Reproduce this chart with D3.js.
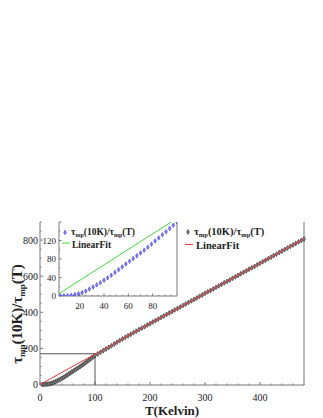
<!DOCTYPE html>
<meta charset="utf-8">
<script src="https://d3js.org/d3.v7.min.js"></script>
<style>
  body { margin: 0; background: #fff; }
  text { font-family: "Liberation Serif", serif; fill: #222; }
</style>
<div id="chart"></div>
<script>
// temperatures and ratio values
var tempLow = [4, 7, 10, 13, 16, 19, 22, 25, 28, 31, 34, 37, 40, 43, 46, 49, 52, 55, 58, 61, 64, 67, 70, 73, 76, 79, 82, 85, 88, 91, 94, 97, 100];
var ratioLow = [0, 0.3, 0.8, 1.6, 3, 4.9, 7.3, 10.7, 15, 19.5, 24, 28.7, 34, 39.2, 45, 51, 57, 63, 69, 75, 81, 87, 93, 99, 105.5, 112, 119, 125.5, 132.5, 139, 146, 153, 160];
var tempHigh = [105, 110, 115, 120, 125, 130, 135, 140, 145, 150, 155, 160, 165, 170, 175, 180, 185, 190, 195, 200,
  205, 210, 215, 220, 225, 230, 235, 240, 245, 250, 255, 260, 265, 270, 275, 280, 285, 290, 295, 300,
  305, 310, 315, 320, 325, 330, 335, 340, 345, 350, 355, 360, 365, 370, 375, 380, 385, 390, 395, 400,
  405, 410, 415, 420, 425, 430, 435, 440, 445, 450, 455, 460, 465, 470, 475, 480];
var ratioHigh = [169, 178, 187, 196, 205, 214, 224, 234, 243, 252, 261, 270, 278, 287, 295, 304, 312, 320, 329, 337,
  346, 354, 362, 371, 379, 388, 396, 404, 413, 421, 429, 438, 446, 454, 463, 471, 479, 488, 496, 505,
  513, 521, 529, 538, 546, 554, 563, 571, 579, 588, 596, 604, 613, 621, 629, 638, 646, 654, 663, 671,
  680, 688, 697, 705, 714, 722, 731, 739, 748, 756, 765, 773, 781, 790, 798, 806];
// linear fit: slope, intercept
var fitCoef = [1.68, 0];
// corner of the zoomed region shown in the inset
var zoomCorner = [100, 170];
var mainXTicks = [0, 100, 200, 300, 400];
var mainYTicks = [0, 200, 400, 600, 800];
var insetXTicks = [20, 40, 60, 80];
var insetYTicks = [0, 40, 80, 120];

var W = 323, H = 418;
var svg = d3.select("#chart").append("svg")
  .attr("width", W).attr("height", H);

var allData = tempLow.map(function(t, i) { return {t: t, v: ratioLow[i]}; })
  .concat(tempHigh.map(function(t, i) { return {t: t, v: ratioHigh[i]}; }));
var lowData = tempLow.map(function(t, i) { return {t: t, v: ratioLow[i]}; });
function fit(t) { return fitCoef[0] * t + fitCoef[1]; }

// ---------- main plot ----------
var x = d3.scaleLinear().domain([0, 480]).range([40, 304]);
var y = d3.scaleLinear().domain([-3, 900]).range([385, 222]);

var frame = "#777";
// frame lines (left, bottom, right)
svg.append("path")
  .attr("d", "M" + x(0) + "," + y(900) + "V" + y(-3) + "H" + x(480) + "V" + y(900))
  .attr("fill", "none").attr("stroke", frame).attr("stroke-width", 1);

// ticks
var xMinor = d3.range(0, 481, 20);
svg.append("g").selectAll("line").data(xMinor).enter().append("line")
  .attr("x1", function(d) { return x(d); }).attr("x2", function(d) { return x(d); })
  .attr("y1", y(-3)).attr("y2", function(d) { return y(-3) - (d % 100 === 0 ? 3 : 1.5); })
  .attr("stroke", frame);
var yMinor = d3.range(0, 901, 50);
svg.append("g").selectAll("line").data(yMinor).enter().append("line")
  .attr("y1", function(d) { return y(d); }).attr("y2", function(d) { return y(d); })
  .attr("x1", x(0)).attr("x2", function(d) { return x(0) + (d % 200 === 0 ? 3 : 1.5); })
  .attr("stroke", frame);

svg.append("g").selectAll("text").data(mainXTicks).enter().append("text")
  .attr("x", function(d) { return x(d); }).attr("y", 401)
  .attr("text-anchor", "middle").style("font-size", "10px")
  .text(function(d) { return d; });
svg.append("g").selectAll("text").data(mainYTicks).enter().append("text")
  .attr("x", 38).attr("y", function(d) { return y(d) + 3.5; })
  .attr("text-anchor", "end").style("font-size", "10px")
  .text(function(d) { return d; });

// zoom box
svg.append("path")
  .attr("d", "M" + x(0) + "," + y(zoomCorner[1]) + "H" + x(zoomCorner[0]) + "V" + y(-3))
  .attr("fill", "none").attr("stroke", "#555").attr("stroke-width", 1);

// data diamonds
var diamond = d3.symbol().type(d3.symbolDiamond).size(7);
svg.append("g").selectAll("path").data(allData).enter().append("path")
  .attr("d", diamond)
  .attr("transform", function(d) { return "translate(" + x(d.t) + "," + y(d.v) + ")"; })
  .attr("fill", "#888").attr("stroke", "#111").attr("stroke-width", 0.5);

// fit line
svg.append("line")
  .attr("x1", x(0)).attr("y1", y(fit(0)))
  .attr("x2", x(480)).attr("y2", y(fit(480)))
  .attr("stroke", "#e8393c").attr("stroke-width", 1);

// axis titles
svg.append("text")
  .attr("x", (x(0) + x(480)) / 2).attr("y", 415)
  .attr("text-anchor", "middle")
  .style("font-size", "13px").style("font-weight", "bold")
  .text("T(Kelvin)");

function tauText(sel, big, small) {
  sel.append("tspan").text("τ");
  sel.append("tspan").text("mp").style("font-size", small + "px").attr("dy", big * 0.2);
  sel.append("tspan").text("(10K)/τ").attr("dy", -big * 0.2);
  sel.append("tspan").text("mp").style("font-size", small + "px").attr("dy", big * 0.2);
  sel.append("tspan").text("(T)").attr("dy", -big * 0.2);
}
var ytitle = svg.append("text")
  .attr("transform", "translate(22,314) rotate(-90)")
  .attr("text-anchor", "middle")
  .style("font-size", "15px").style("font-weight", "bold");
tauText(ytitle, 15, 9);

// main legend
svg.append("path").attr("d", diamond)
  .attr("transform", "translate(188,232)")
  .attr("fill", "#888").attr("stroke", "#111").attr("stroke-width", 0.5);
var leg1 = svg.append("text").attr("x", 194).attr("y", 235)
  .style("font-size", "10.5px").style("font-weight", "bold");
tauText(leg1, 10.5, 6.5);
svg.append("line").attr("x1", 185).attr("x2", 193).attr("y1", 244.5).attr("y2", 244.5)
  .attr("stroke", "#e8393c");
svg.append("text").attr("x", 196).attr("y", 249)
  .style("font-size", "10.5px").style("font-weight", "bold").text("LinearFit");

// ---------- inset ----------
var ix = d3.scaleLinear().domain([3, 100]).range([59, 177]);
var iy = d3.scaleLinear().domain([0, 160]).range([296, 222]);

svg.append("rect").attr("x", 59).attr("y", 222).attr("width", 118).attr("height", 74)
  .attr("fill", "#fff");
svg.append("path")
  .attr("d", "M59,222V296H177V222")
  .attr("fill", "none").attr("stroke", frame).attr("stroke-width", 1);

svg.append("g").selectAll("line").data(d3.range(5, 100, 5)).enter().append("line")
  .attr("x1", function(d) { return ix(d); }).attr("x2", function(d) { return ix(d); })
  .attr("y1", 296).attr("y2", function(d) { return 296 - (d % 20 === 0 ? 2.5 : 1.2); })
  .attr("stroke", frame);
svg.append("g").selectAll("line").data(d3.range(0, 161, 20)).enter().append("line")
  .attr("y1", function(d) { return iy(d); }).attr("y2", function(d) { return iy(d); })
  .attr("x1", 59).attr("x2", function(d) { return 59 + (d % 40 === 0 ? 2.5 : 1.2); })
  .attr("stroke", frame);

svg.append("g").selectAll("text").data(insetXTicks).enter().append("text")
  .attr("x", function(d) { return ix(d); }).attr("y", 309)
  .attr("text-anchor", "middle").style("font-size", "9px")
  .text(function(d) { return d; });
svg.append("g").selectAll("text").data(insetYTicks).enter().append("text")
  .attr("x", 56).attr("y", function(d) { return iy(d) + 3; })
  .attr("text-anchor", "end").style("font-size", "9px")
  .text(function(d) { return d; });

svg.append("clipPath").attr("id", "ic").append("rect")
  .attr("x", 59).attr("y", 222).attr("width", 118).attr("height", 74);
var ig = svg.append("g").attr("clip-path", "url(#ic)");
ig.append("line")
  .attr("x1", ix(3)).attr("y1", iy(fit(3)))
  .attr("x2", ix(100)).attr("y2", iy(fit(100)))
  .attr("stroke", "#3de03d").attr("stroke-width", 1);
var idiamond = d3.symbol().type(d3.symbolDiamond).size(6);
ig.selectAll("path.pt").data(lowData).enter().append("path")
  .attr("class", "pt").attr("d", idiamond)
  .attr("transform", function(d) { return "translate(" + ix(d.t) + "," + iy(d.v) + ")"; })
  .attr("fill", "#7d7dff").attr("stroke", "#2a2ad0").attr("stroke-width", 0.5);

// inset legend
svg.append("path").attr("d", idiamond)
  .attr("transform", "translate(65,232.5)")
  .attr("fill", "#7d7dff").attr("stroke", "#2a2ad0").attr("stroke-width", 0.5);
var leg2 = svg.append("text").attr("x", 71).attr("y", 235)
  .style("font-size", "9.5px").style("font-weight", "bold");
tauText(leg2, 9.5, 6);
svg.append("line").attr("x1", 62).attr("x2", 70).attr("y1", 243).attr("y2", 243)
  .attr("stroke", "#3de03d");
svg.append("text").attr("x", 72).attr("y", 247.5)
  .style("font-size", "9.5px").style("font-weight", "bold").text("LinearFit");
</script>
